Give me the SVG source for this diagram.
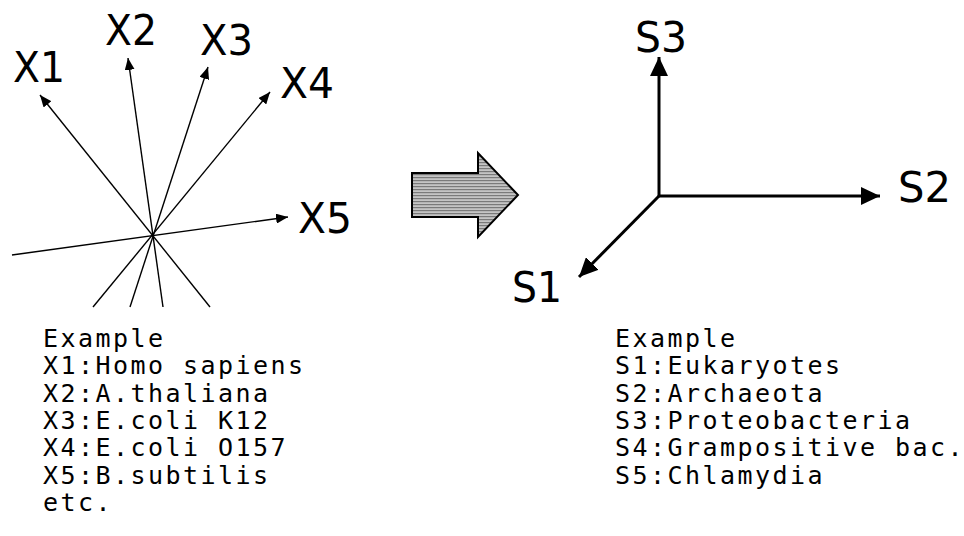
<svg xmlns="http://www.w3.org/2000/svg" width="964" height="536" viewBox="0 0 964 536">
  <style>
    .axis-label { font-family: "DejaVu Sans", Verdana, sans-serif; font-size: 43px; fill: #000; }
    .legend { font-family: "DejaVu Sans Mono", "Liberation Mono", monospace; font-size: 25px; letter-spacing: 2.45px; fill: #000; }
    .thin { stroke: #000; stroke-width: 1.4; fill: none; marker-end: url(#smallHead); }
    .thick { stroke: #000; stroke-width: 3; fill: none; marker-end: url(#bigHead); }
  </style>
  <defs>
    <marker id="smallHead" markerUnits="userSpaceOnUse" markerWidth="14" markerHeight="10" refX="12" refY="5" orient="auto">
      <path d="M0,0 L12,5 L0,10 Z" fill="#000"/>
    </marker>
    <marker id="bigHead" markerUnits="userSpaceOnUse" markerWidth="20" markerHeight="18" refX="19" refY="9" orient="auto">
      <path d="M0,0 L19,9 L0,18 Z" fill="#000"/>
    </marker>
    <pattern id="hatch" patternUnits="userSpaceOnUse" width="4" height="3">
      <rect width="4" height="3" fill="#c4c4c4"/>
      <rect y="0" width="4" height="1.2" fill="#7a7a7a"/>
    </pattern>
  </defs>
  <rect width="964" height="536" fill="#fff"/>

  <g id="connectors">
    <line class="thin" x1="210" y1="307" x2="40" y2="95"/>
    <line class="thin" x1="163" y1="307" x2="128" y2="58"/>
    <line class="thin" x1="130" y1="307" x2="208" y2="67"/>
    <line class="thin" x1="93" y1="307" x2="270" y2="92"/>
    <line class="thin" x1="12" y1="255" x2="288" y2="217"/>
    <line class="thick" x1="659" y1="197" x2="659" y2="57"/>
    <line class="thick" x1="658" y1="196" x2="880" y2="196"/>
    <line class="thick" x1="659" y1="196" x2="579" y2="277"/>
  </g>

  <g id="X1"><text class="axis-label" x="13" y="82" textLength="52" lengthAdjust="spacingAndGlyphs">X1</text></g>
  <g id="X2"><text class="axis-label" x="105" y="45" textLength="52" lengthAdjust="spacingAndGlyphs">X2</text></g>
  <g id="X3"><text class="axis-label" x="200" y="55" textLength="53" lengthAdjust="spacingAndGlyphs">X3</text></g>
  <g id="X4"><text class="axis-label" x="280" y="98" textLength="54" lengthAdjust="spacingAndGlyphs">X4</text></g>
  <g id="X5"><text class="axis-label" x="298" y="233" textLength="54" lengthAdjust="spacingAndGlyphs">X5</text></g>

  <g id="transform-arrow">
    <polygon points="412,173 478,173 478,153 518,195 478,237 478,217 412,217" fill="url(#hatch)" stroke="#000" stroke-width="2"/>
  </g>

  <g id="S3"><text class="axis-label" x="635" y="52" textLength="52" lengthAdjust="spacingAndGlyphs">S3</text></g>
  <g id="S2"><text class="axis-label" x="898" y="202" textLength="53" lengthAdjust="spacingAndGlyphs">S2</text></g>
  <g id="S1"><text class="axis-label" x="512" y="302" textLength="50" lengthAdjust="spacingAndGlyphs">S1</text></g>

  <g id="legend-left">
    <text class="legend" x="43" y="347">Example</text>
    <text class="legend" x="43" y="374.3">X1:Homo sapiens</text>
    <text class="legend" x="43" y="401.6">X2:A.thaliana</text>
    <text class="legend" x="43" y="428.9">X3:E.coli K12</text>
    <text class="legend" x="43" y="456.2">X4:E.coli O157</text>
    <text class="legend" x="43" y="483.5">X5:B.subtilis</text>
    <text class="legend" x="43" y="510.8">etc.</text>
  </g>

  <g id="legend-right">
    <text class="legend" x="615" y="347">Example</text>
    <text class="legend" x="615" y="374.3">S1:Eukaryotes</text>
    <text class="legend" x="615" y="401.6">S2:Archaeota</text>
    <text class="legend" x="615" y="428.9">S3:Proteobacteria</text>
    <text class="legend" x="615" y="456.2">S4:Grampositive bac.</text>
    <text class="legend" x="615" y="483.5">S5:Chlamydia</text>
  </g>
</svg>
